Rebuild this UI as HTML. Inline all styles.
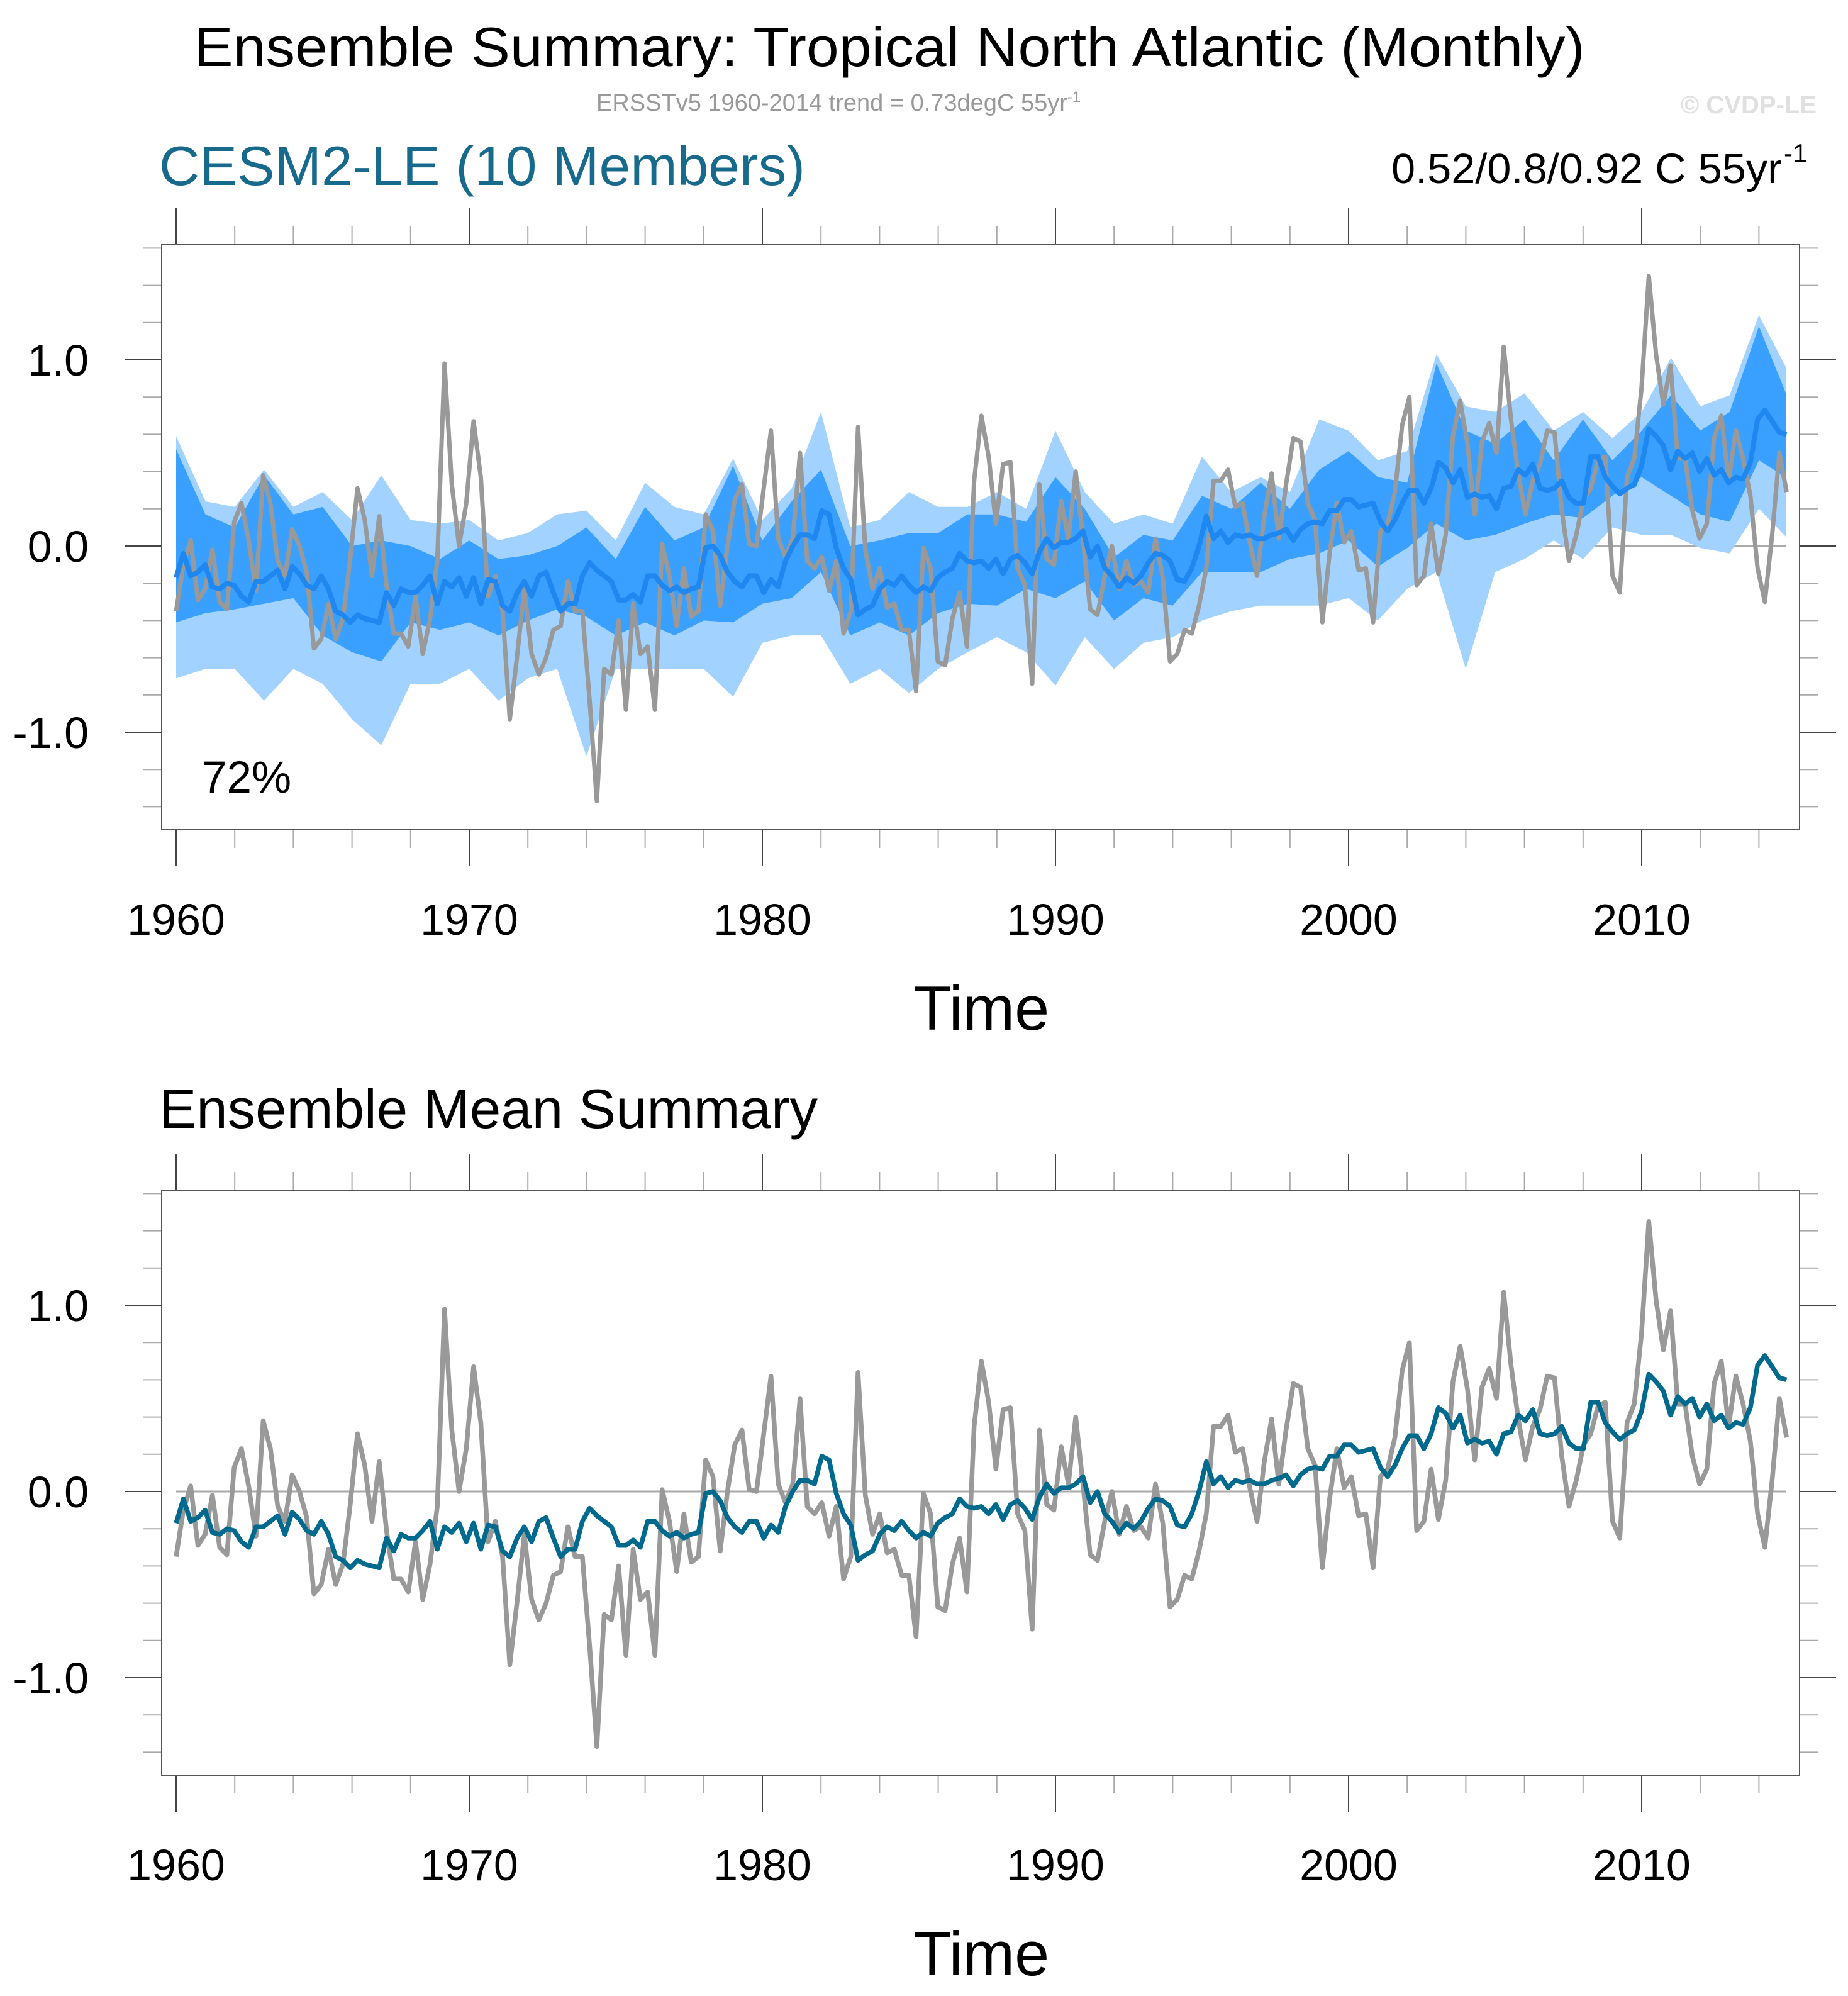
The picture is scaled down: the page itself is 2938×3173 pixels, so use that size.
<!DOCTYPE html>
<html><head><meta charset="utf-8">
<style>
html,body{margin:0;padding:0;background:#fff;}
svg{display:block;font-family:"Liberation Sans",Arial,sans-serif;}
</style></head>
<body>
<svg id="chart" width="2938" height="3173" viewBox="0 0 2938 3173" xmlns="http://www.w3.org/2000/svg">
  <rect x="0" y="0" width="2938" height="3173" fill="#fff"/>
  <text x="1414" y="105" font-size="88" text-anchor="middle" textLength="2211" lengthAdjust="spacingAndGlyphs" fill="#000">Ensemble Summary: Tropical North Atlantic (Monthly)</text>
  <text x="948" y="176" font-size="38" fill="#999">ERSSTv5 1960-2014 trend = 0.73degC 55yr<tspan font-size="24" dy="-14">-1</tspan></text>
  <text x="2888" y="180" font-size="40" font-weight="bold" fill="#e0e0e0" text-anchor="end">© CVDP-LE</text>
  <text x="253" y="294" font-size="88" fill="#176a8c" textLength="1027" lengthAdjust="spacingAndGlyphs">CESM2-LE (10 Members)</text>
  <text x="2212" y="291" font-size="67" fill="#000" textLength="621" lengthAdjust="spacingAndGlyphs">0.52/0.8/0.92 C 55yr</text>
  <text x="2836" y="258" font-size="42" fill="#000">-1</text>
  <text x="321" y="1260" font-size="71" fill="#000">72%</text>
  <text x="253" y="1793" font-size="88" fill="#000" textLength="1047" lengthAdjust="spacingAndGlyphs">Ensemble Mean Summary</text>
  <defs>
    <clipPath id="clip1"><rect x="257" y="389" width="2604" height="930"/></clipPath>
    <clipPath id="clip2"><rect x="257" y="1892" width="2604" height="928"/></clipPath>
  </defs>
  <g id="panel1"></g>
  <g id="panel2"></g>
</svg>
<script>
// ---- data ----
const obsStartYear = 1960;
const obsStepYears = 0.2475;
const obsValues = [
-0.35,-0.10,0.03,-0.29,-0.23,-0.02,-0.30,-0.34,0.13,0.23,
0.03,-0.24,0.38,0.23,-0.08,-0.16,0.09,0.00,-0.14,-0.55,
-0.50,-0.31,-0.50,-0.39,-0.07,0.31,0.14,-0.16,0.16,-0.21,
-0.47,-0.47,-0.54,-0.27,-0.58,-0.39,-0.08,0.98,0.33,0.00,
0.23,0.67,0.37,-0.27,-0.16,-0.35,-0.93,-0.59,-0.23,-0.58,
-0.69,-0.60,-0.45,-0.43,-0.19,-0.35,-0.35,
-0.83,-1.37,-0.66,-0.69,-0.40,-0.88,-0.31,-0.58,-0.54,-0.88,
0.01,-0.16,-0.43,-0.12,-0.38,-0.35,0.17,0.08,-0.32,0.00,
0.25,0.33,0.01,0.00,0.31,0.62,0.04,-0.06,0.04,0.50,
-0.08,-0.12,-0.06,-0.24,-0.08,-0.47,-0.35,0.64,-0.02,-0.23,
-0.12,-0.33,-0.31,-0.45,-0.45,-0.78,-0.01,-0.12,-0.62,-0.64,
-0.39,-0.25,-0.54,0.35,0.70,0.48,
0.12,0.44,0.45,-0.12,-0.21,-0.74,0.33,-0.07,-0.10,0.24,
0.04,0.40,0.04,-0.34,-0.37,-0.16,0.00,-0.23,-0.08,-0.21,
-0.19,-0.25,0.04,-0.17,-0.62,-0.58,-0.45,-0.47,-0.32,-0.12,
0.35,0.35,0.41,0.21,0.23,0.02,-0.16,0.16,0.39,0.04,
0.33,0.58,0.56,0.23,0.14,-0.41,-0.04,0.23,0.02,0.08,
-0.13,-0.12,-0.41,0.08,0.12,0.29,0.65,0.80,
-0.21,-0.16,0.12,-0.15,0.06,0.59,0.78,0.55,0.17,0.56,
0.66,0.50,1.07,0.68,0.39,0.17,0.35,0.44,0.62,0.61,
0.19,-0.08,0.06,0.25,0.31,0.46,0.48,-0.16,-0.25,0.37,
0.47,0.85,1.45,1.03,0.76,0.97,0.47,0.47,0.19,0.04,
0.12,0.58,0.70,0.35,0.62,0.47,0.27,-0.12,-0.30,0.06,
0.50,0.29];
const ensMeanValues = [
-0.17,-0.04,-0.16,-0.14,-0.10,-0.22,-0.23,-0.20,-0.21,-0.27,
-0.30,-0.19,-0.19,-0.16,-0.13,-0.23,-0.11,-0.15,-0.21,-0.23,
-0.16,-0.23,-0.35,-0.37,-0.41,-0.37,-0.39,-0.40,-0.41,-0.25,
-0.32,-0.23,-0.25,-0.25,-0.21,-0.16,-0.31,-0.19,-0.22,-0.17,
-0.27,-0.17,-0.31,-0.18,-0.19,-0.32,-0.35,-0.25,-0.19,-0.27,
-0.16,-0.14,-0.25,-0.35,-0.31,-0.31,-0.16,
-0.09,-0.13,-0.16,-0.19,-0.29,-0.29,-0.26,-0.30,-0.16,-0.16,
-0.21,-0.24,-0.22,-0.25,-0.23,-0.22,-0.01,0.00,-0.05,-0.14,
-0.19,-0.22,-0.16,-0.16,-0.25,-0.18,-0.22,-0.08,0.00,0.06,
0.06,0.04,0.19,0.17,-0.01,-0.12,-0.18,-0.37,-0.34,-0.32,
-0.23,-0.19,-0.21,-0.16,-0.21,-0.25,-0.22,-0.24,-0.17,-0.14,
-0.12,-0.04,-0.08,-0.09,-0.08,-0.12,
-0.07,-0.15,-0.07,-0.05,-0.09,-0.15,-0.03,0.04,-0.01,0.02,
0.02,0.04,0.08,-0.06,0.00,-0.12,-0.16,-0.22,-0.17,-0.20,
-0.16,-0.09,-0.04,-0.05,-0.08,-0.18,-0.19,-0.12,0.00,0.16,
0.04,0.08,0.02,0.06,0.05,0.06,0.04,0.04,0.06,0.07,
0.09,0.03,0.09,0.12,0.13,0.12,0.19,0.19,0.25,0.25,
0.21,0.22,0.23,0.13,0.08,0.14,0.23,0.30,
0.30,0.23,0.31,0.45,0.42,0.34,0.41,0.26,0.28,0.26,
0.27,0.20,0.31,0.32,0.41,0.38,0.44,0.31,0.30,0.31,
0.35,0.26,0.23,0.23,0.48,0.48,0.37,0.32,0.28,0.31,
0.33,0.43,0.63,0.59,0.54,0.41,0.51,0.47,0.50,0.40,
0.47,0.38,0.41,0.34,0.37,0.36,0.45,0.68,0.73,0.67,
0.61,0.60];
const bandYears = [1960,1961,1962,1963,1964,1965,1966,1967,1968,1969,1970,1971,1972,1973,1974,1975,1976,1977,1978,1979,1980,1981,1982,1983,1984,1985,1986,1987,1988,1989,1990,1991,1992,1993,1994,1995,1996,1997,1998,1999,2000,2001,2002,2003,2004,2005,2006,2007,2008,2009,2010,2011,2012,2013,2014,2014.92];
const outerHi = [0.59,0.24,0.21,0.41,0.21,0.29,0.14,0.38,0.14,0.12,0.14,0.03,0.07,0.17,0.19,0.03,0.34,0.21,0.17,0.47,0.14,0.31,0.72,0.10,0.14,0.29,0.21,0.21,0.29,0.20,0.62,0.29,0.12,0.17,0.12,0.48,0.29,0.37,0.29,0.68,0.62,0.46,0.51,1.03,0.75,0.72,0.82,0.62,0.72,0.58,0.72,1.01,0.75,0.81,1.24,0.96];
const innerHi = [0.52,0.17,0.10,0.38,0.17,0.21,0.00,0.03,0.00,-0.07,0.03,-0.07,-0.05,0.00,0.10,-0.07,0.21,0.03,0.10,0.43,0.03,0.24,0.41,0.00,0.03,0.07,0.07,0.17,0.17,0.13,0.37,0.20,-0.06,0.06,0.03,0.27,0.20,0.34,0.20,0.41,0.51,0.37,0.34,0.98,0.62,0.55,0.68,0.46,0.68,0.46,0.62,0.81,0.62,0.72,1.18,0.82];
const innerLo = [-0.41,-0.36,-0.34,-0.31,-0.28,-0.48,-0.57,-0.62,-0.41,-0.45,-0.41,-0.48,-0.40,-0.34,-0.38,-0.48,-0.41,-0.48,-0.40,-0.41,-0.31,-0.28,-0.14,-0.48,-0.41,-0.48,-0.36,-0.31,-0.32,-0.23,-0.28,-0.19,-0.40,-0.28,-0.32,-0.14,-0.14,-0.14,-0.07,-0.04,0.03,-0.11,-0.01,0.12,0.03,0.06,0.12,0.17,0.15,0.27,0.37,0.27,0.17,0.13,0.46,0.37];
const outerLo = [-0.71,-0.66,-0.66,-0.83,-0.66,-0.74,-0.93,-1.07,-0.74,-0.74,-0.66,-0.83,-0.71,-0.66,-1.13,-0.66,-0.66,-0.66,-0.66,-0.81,-0.52,-0.48,-0.48,-0.74,-0.66,-0.79,-0.66,-0.57,-0.49,-0.57,-0.75,-0.49,-0.66,-0.52,-0.49,-0.40,-0.35,-0.32,-0.32,-0.32,-0.28,-0.40,-0.23,-0.14,-0.66,-0.14,-0.07,0.03,-0.07,0.10,0.06,0.06,-0.01,-0.04,0.20,0.05];
const xMajorTicks = [1960,1970,1980,1990,2000,2010];
const xTickLabels = ["1960","1970","1980","1990","2000","2010"];
const yMajorTicks = [-1.0,0.0,1.0];
const yTickLabels = ["-1.0","0.0","1.0"];

// ---- layout ----
const NS = "http://www.w3.org/2000/svg";
const plotLeft = 257, plotRight = 2861, plotH = 930;
const x = yr => 280 + (yr - 1960) * 46.6;
function mk(tag, attrs, parent){const e=document.createElementNS(NS,tag);for(const k in attrs)e.setAttribute(k,attrs[k]);parent.appendChild(e);return e;}

function drawAxes(g, top, zeroY){
  const y = v => zeroY - v * 296;
  const bottom = top + plotH;
  const zl = mk('line',{x1:x(1960),x2:x(2014.92),y1:y(0),y2:y(0),stroke:'#aaa','stroke-width':3},g);
  
  
  for(let i=-7;i<=8;i++){
    const v=i*0.2; const yy=y(v); if(yy<top-1||yy>bottom+1) continue;
    const major = Math.abs(v-Math.round(v))<1e-6;
    const len = major?58:29;
    const tl = mk('line',{x1:plotLeft-len,x2:plotLeft,y1:yy,y2:yy,stroke:major?'#444':'#aaa','stroke-width':2},g);
    
    
    const tr = mk('line',{x1:plotRight,x2:plotRight+len,y1:yy,y2:yy,stroke:major?'#444':'#aaa','stroke-width':2},g);
    
    
  }
  yMajorTicks.forEach((v,i)=>{
    const t = mk('text',{x:141,y:y(v)+25,'font-size':70,'text-anchor':'end',fill:'#000'},g);
    t.textContent = yTickLabels[i];
    
    
  });
  for(let yr=1960; yr<=2014; yr+=2){
    const major = (yr%10===0);
    const len = major?58:29;
    const xx = x(yr);
    const tt = mk('line',{x1:xx,x2:xx,y1:top-len,y2:top,stroke:major?'#444':'#aaa','stroke-width':2},g);
    
    
    const tb = mk('line',{x1:xx,x2:xx,y1:bottom,y2:bottom+len,stroke:major?'#444':'#aaa','stroke-width':2},g);
    
    
  }
  xMajorTicks.forEach((yr,i)=>{
    const t = mk('text',{x:x(yr),y:bottom+167,'font-size':70,'text-anchor':'middle',fill:'#000'},g);
    t.textContent = xTickLabels[i];
    
    
  });
  const xt = mk('text',{x:1560,y:bottom+318,'font-size':99,'text-anchor':'middle',fill:'#000'},g);
  xt.textContent = 'Time';
  
  
  return y;
}

function frame(g, top){
  const r = mk('rect',{x:plotLeft,y:top,width:plotRight-plotLeft,height:plotH,fill:'none',stroke:'#555','stroke-width':2},g);
  
  
}

function linePath(vals, y){
  return vals.map((v,i)=>(i?'L':'M')+x(obsStartYear+i*obsStepYears).toFixed(1)+','+y(v).toFixed(1)).join('');
}
function bandPath(hi, lo, y){
  let d = hi.map((v,i)=>(i?'L':'M')+x(bandYears[i]).toFixed(1)+','+y(v).toFixed(1)).join('');
  for(let i=lo.length-1;i>=0;i--) d += 'L'+x(bandYears[i]).toFixed(1)+','+y(lo[i]).toFixed(1);
  return d+'Z';
}

// panel 1
const p1 = document.getElementById('panel1');
const y1 = drawAxes(p1, 389, 868);
const d1 = mk('g',{'clip-path':'url(#clip1)'},p1);


const ob = mk('path',{d:bandPath(outerHi,outerLo,y1),fill:'#a2d2ff'},d1);


const ib = mk('path',{d:bandPath(innerHi,innerLo,y1),fill:'#3aa0ff'},d1);


const o1 = mk('path',{d:linePath(obsValues,y1),fill:'none',stroke:'#999','stroke-width':7,'stroke-linejoin':'round'},d1);


const m1 = mk('path',{d:linePath(ensMeanValues,y1),fill:'none',stroke:'#1e88f0','stroke-width':8,'stroke-linejoin':'round'},d1);


frame(p1, 389);

// panel 2
const p2 = document.getElementById('panel2');
const y2 = drawAxes(p2, 1892, 2371);
const d2 = mk('g',{'clip-path':'url(#clip2)'},p2);


const o2 = mk('path',{d:linePath(obsValues,y2),fill:'none',stroke:'#999','stroke-width':7.5,'stroke-linejoin':'round'},d2);


const m2 = mk('path',{d:linePath(ensMeanValues,y2),fill:'none',stroke:'#006a8e','stroke-width':7.5,'stroke-linejoin':'round'},d2);


frame(p2, 1892);
</script>
</body></html>
